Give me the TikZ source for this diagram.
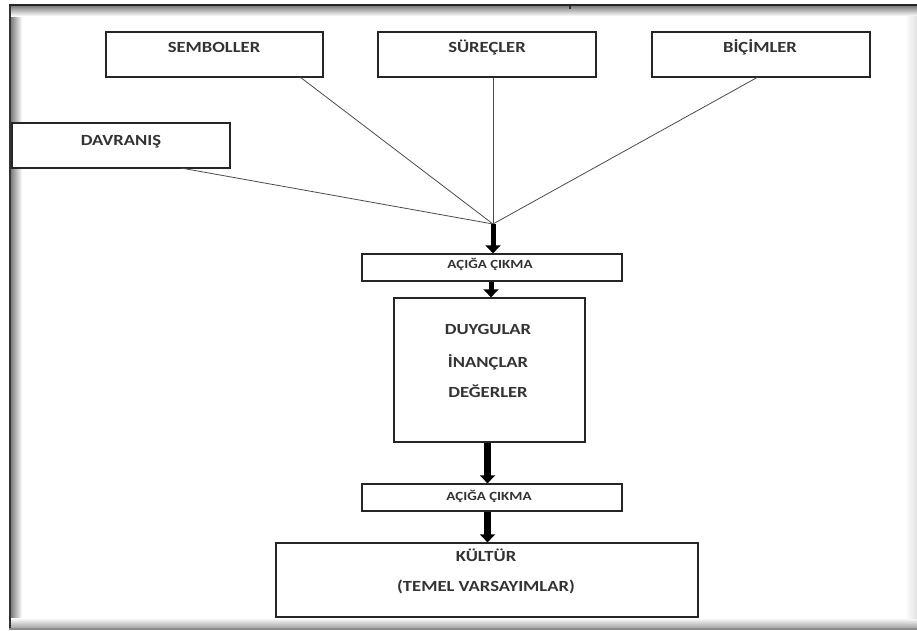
\documentclass[tikz,border=0pt]{standalone}
\usepackage{fontspec}
\setmainfont{Carlito}
\newfontfamily\lblfont[FakeStretch=1.2]{Carlito}
\usetikzlibrary{arrows.meta}
\begin{document}
\begin{tikzpicture}[x=1pt,y=-1pt,
  box/.style={draw=black!85, line width=1.3pt, inner sep=0pt, fill=white},
  txt/.style={font=\lblfont\bfseries\fontsize{15.5}{18}\selectfont, text=black!80, inner sep=0pt, anchor=base},
  small/.style={font=\lblfont\bfseries\fontsize{12.5}{15}\selectfont, text=black!80, inner sep=0pt, anchor=base},
  link/.style={draw=black!70, line width=0.8pt},
  bigarrow/.style={line width=5pt, -{Triangle[width=15pt,length=8pt]}},
  hugearrow/.style={line width=7pt, -{Triangle[width=15pt,length=8pt]}},
]
\useasboundingbox (0,0) rectangle (917,630);
\fill[white] (0,0) rectangle (917,630);
% frame with inner shadow
\shade[left color=black!55, right color=white] (10,5) rectangle (22,629);
\shade[top color=black!55, bottom color=white] (10,5) rectangle (917,16);
\shade[bottom color=black!40, top color=white] (10,618) rectangle (917,629);
\shade[left color=white, right color=black!12] (905,16) rectangle (917,618);
\draw[black!80, line width=2pt] (9.5,4) -- (9.5,630);
\draw[black!85, line width=1.5pt] (9,5) -- (917,5);
\draw[black!45, line width=2pt] (9,629) -- (917,629);
\fill[black!80] (569,6) rectangle (571,8.5);

% boxes
\node[box, minimum width=217pt, minimum height=45pt] (sem) at (214.5,54.5) {};
\node[box, minimum width=218pt, minimum height=45pt] (sur) at (487,54.5) {};
\node[box, minimum width=218pt, minimum height=45pt] (bic) at (761,54.5) {};
\node[box, minimum width=218pt, minimum height=45pt] (dav) at (121,145.5) {};
\node[box, minimum width=260pt, minimum height=27pt] (ac1) at (492,267.5) {};
\node[box, minimum width=191pt, minimum height=144pt] (duy) at (489.5,370) {};
\node[box, minimum width=260pt, minimum height=27pt] (ac2) at (492,497.5) {};
\node[box, minimum width=422pt, minimum height=74pt] (kul) at (487,580) {};

% texts
\node[txt] (semT) at (214,52) {SEMBOLLER};
\node[txt] (surT) at (487,52) {SÜREÇLER};
\node[txt] (bicT) at (760,52) {BİÇİMLER};
\node[txt] (davT) at (121,145) {DAVRANIŞ};
\node[small] (ac1T) at (490,268) {AÇIĞA ÇIKMA};
\node[txt] (duyT1) at (488,334) {DUYGULAR};
\node[txt] (duyT2) at (488,367) {İNANÇLAR};
\node[txt] (duyT3) at (488,397) {DEĞERLER};
\node[small] (ac2T) at (489,500) {AÇIĞA ÇIKMA};
\node[txt] (kulT1) at (486,561) {KÜLTÜR};
\node[txt] (kulT2) at (486,591) {(TEMEL VARSAYIMLAR)};

% converging connectors
\coordinate (conv) at (493,224);
\coordinate (semS) at (300,77);
\coordinate (bicS) at (758,77);
\coordinate (davS) at (181,168);
\draw[link] (semS) -- (conv);
\draw[link] (sur.south -| conv) -- (conv);
\draw[link] (bicS) -- (conv);
\draw[link] (davS) -- (conv);

% thick arrows
\coordinate (x2) at (491,0);
\coordinate (x3) at (487.5,0);
\draw[bigarrow] (conv) -- (ac1.north -| conv);
\draw[bigarrow] (ac1.south -| x2) -- (duy.north -| x2);
\draw[hugearrow] (duy.south -| x3) -- (ac2.north -| x3);
\draw[hugearrow] (ac2.south -| x3) -- (kul.north -| x3);
\end{tikzpicture}
\end{document}
